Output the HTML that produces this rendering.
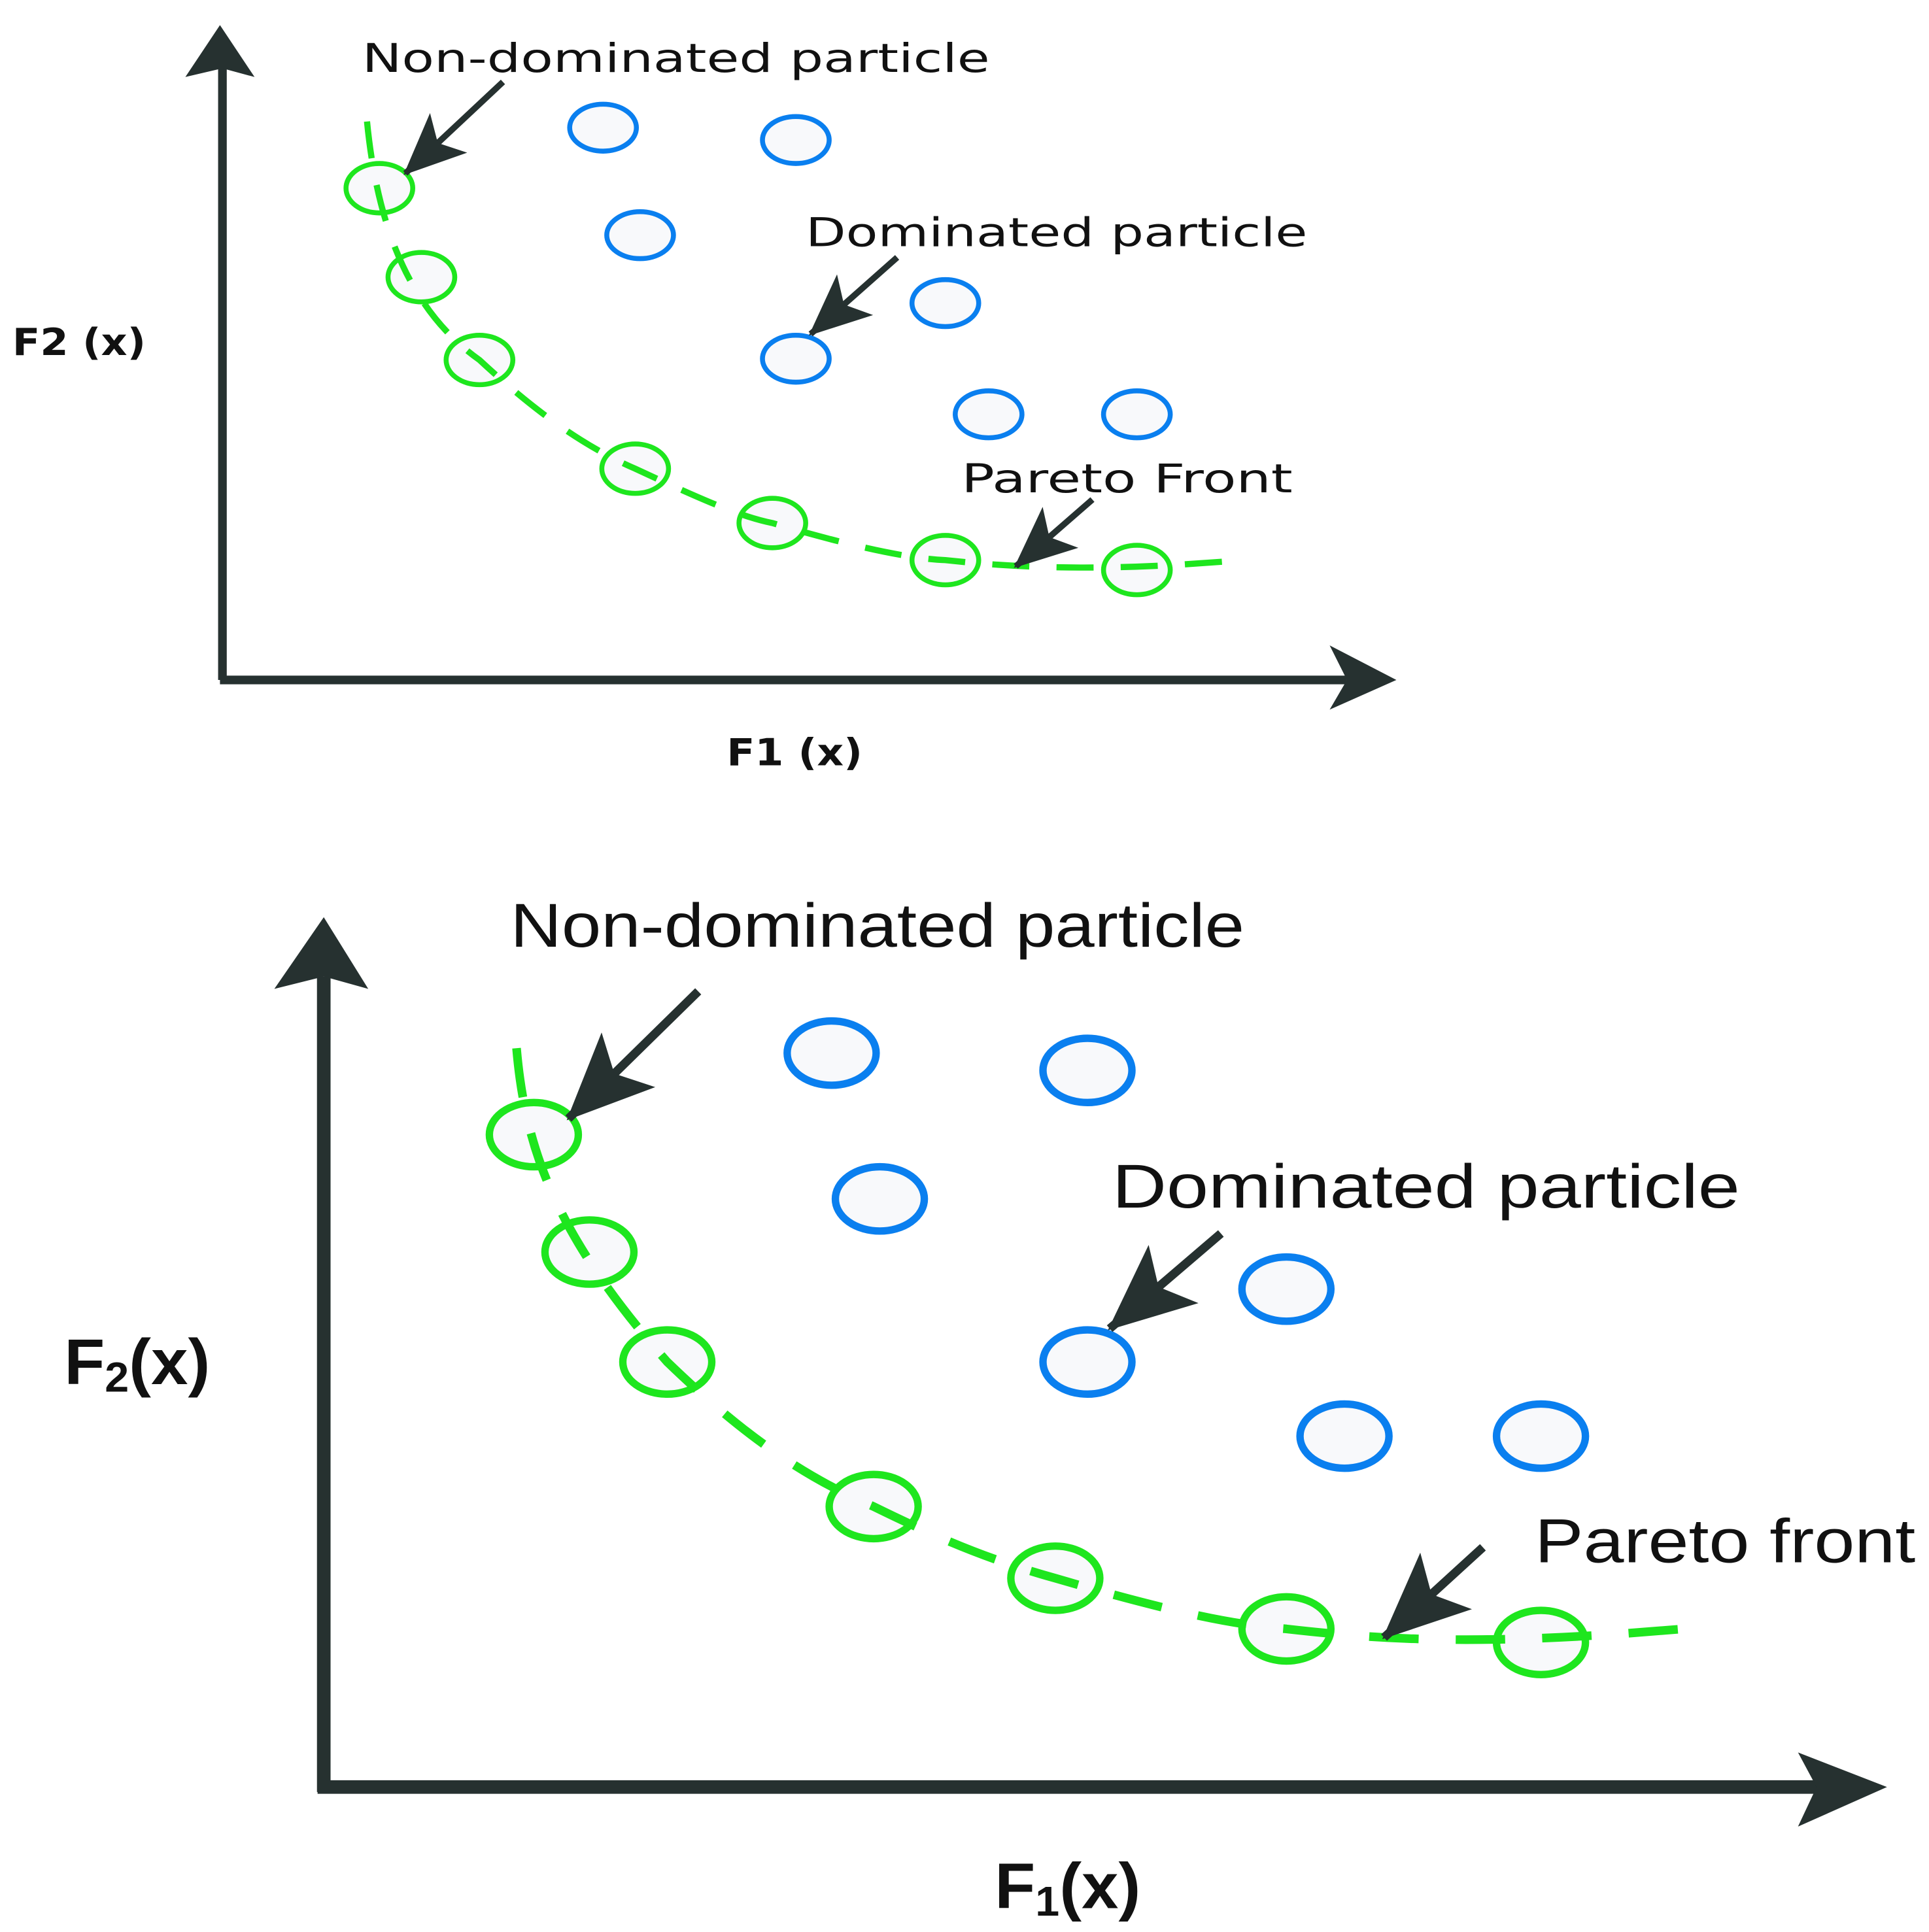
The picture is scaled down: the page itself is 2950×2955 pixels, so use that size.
<!DOCTYPE html>
<html><head><meta charset="utf-8"><style>html,body{margin:0;padding:0;background:#fff}svg{display:block}</style></head>
<body>
<svg width="2950" height="2955" viewBox="0 0 1561 1563" xmlns="http://www.w3.org/2000/svg">
<defs>
<marker id="a1" markerUnits="userSpaceOnUse" markerWidth="50" markerHeight="50" viewBox="0 0 50 50" refX="48" refY="25" orient="auto"><path d="M0,3 L50,25 L0,47 L12,25 Z" fill="#263130"/></marker>
<marker id="a2" markerUnits="userSpaceOnUse" markerWidth="70" markerHeight="70" viewBox="0 0 70 70" refX="68" refY="35" orient="auto"><path d="M0,4 L70,35 L0,66 L16,35 Z" fill="#263130"/></marker>
</defs>
<g font-family="DejaVu Sans, sans-serif" fill="#111">
<g stroke="#263130" stroke-width="7" fill="none"><path d="M180,550 V50 M178,550 H1090"/></g>
<path d="M178,20 L206,62 L180,55 L150,62 Z" fill="#263130"/>
<path d="M1130,550 L1076,574 L1090,550 L1076,522 Z" fill="#263130"/>
<g fill="#f8f9fb" stroke="#0a7fef" stroke-width="4">
<ellipse cx="488" cy="103" rx="27" ry="19"/><ellipse cx="644" cy="113" rx="27" ry="19"/><ellipse cx="518" cy="190" rx="27" ry="19"/><ellipse cx="765" cy="245" rx="27" ry="19"/><ellipse cx="644" cy="290" rx="27" ry="19"/><ellipse cx="800" cy="335" rx="27" ry="19"/><ellipse cx="920" cy="335" rx="27" ry="19"/></g>
<g fill="#f8f9fb" stroke="#1ee61e" stroke-width="4">
<ellipse cx="307" cy="152" rx="27" ry="20"/><ellipse cx="341" cy="224" rx="27" ry="20"/><ellipse cx="388" cy="291" rx="27" ry="20"/><ellipse cx="514" cy="379" rx="27" ry="20"/><ellipse cx="625" cy="423" rx="27" ry="20"/><ellipse cx="765" cy="453" rx="27" ry="20"/><ellipse cx="920" cy="461" rx="27" ry="20"/></g>
<path d="M297,98 C305,180 330,250 388,291 C430,330 470,360 514,379 C570,405 600,418 625,423 C700,445 740,452 765,453 C830,460 900,462 1005,453" stroke="#1ee61e" stroke-width="5" fill="none" stroke-dasharray="30,22"/>
<g stroke="#263130" stroke-width="5" fill="none">
<line x1="407" y1="66" x2="328" y2="140" marker-end="url(#a1)"/>
<line x1="726" y1="208" x2="656" y2="270" marker-end="url(#a1)"/>
<line x1="884" y1="404" x2="822" y2="458" marker-end="url(#a1)"/></g>
<text x="293" y="58" font-size="32" textLength="508" lengthAdjust="spacingAndGlyphs">Non-dominated particle</text>
<text x="652" y="199" font-size="32" textLength="406" lengthAdjust="spacingAndGlyphs">Dominated particle</text>
<text x="778" y="398" font-size="32" textLength="268" lengthAdjust="spacingAndGlyphs">Pareto Front</text>
<text x="10" y="287" font-size="30" font-weight="bold" textLength="108" lengthAdjust="spacingAndGlyphs">F2 (x)</text>
<text x="588" y="619" font-size="30" font-weight="bold" textLength="110" lengthAdjust="spacingAndGlyphs">F1 (x)</text>
</g>
<g font-family="Liberation Sans, sans-serif" fill="#111">
<g stroke="#263130" stroke-width="11" fill="none"><path d="M262,1450 V790 M257,1446 H1470"/></g>
<path d="M262,742 L298,800 L262,790 L222,800 Z" fill="#263130"/>
<path d="M1527,1446 L1455,1478 L1470,1446 L1455,1418 Z" fill="#263130"/>
<g fill="#f8f9fb" stroke="#0a7fef" stroke-width="6">
<ellipse cx="673" cy="852" rx="36" ry="26"/><ellipse cx="880" cy="866" rx="36" ry="26"/><ellipse cx="712" cy="970" rx="36" ry="26"/><ellipse cx="1041" cy="1043" rx="36" ry="26"/><ellipse cx="880" cy="1102" rx="36" ry="26"/><ellipse cx="1088" cy="1162" rx="36" ry="26"/><ellipse cx="1247" cy="1162" rx="36" ry="26"/></g>
<g fill="#f8f9fb" stroke="#1ee61e" stroke-width="6">
<ellipse cx="432" cy="918" rx="36" ry="26"/><ellipse cx="477" cy="1013" rx="36" ry="26"/><ellipse cx="540" cy="1102" rx="36" ry="26"/><ellipse cx="707" cy="1219" rx="36" ry="26"/><ellipse cx="854" cy="1277" rx="36" ry="26"/><ellipse cx="1041" cy="1318" rx="36" ry="26"/><ellipse cx="1247" cy="1329" rx="36" ry="26"/></g>
<path d="M418,848 C425,930 450,1000 540,1102 C600,1160 650,1195 707,1219 C760,1245 800,1262 854,1277 C950,1305 1000,1315 1041,1318 C1120,1327 1200,1332 1362,1318" stroke="#1ee61e" stroke-width="7" fill="none" stroke-dasharray="40,30"/>
<g stroke="#263130" stroke-width="7" fill="none">
<line x1="565" y1="802" x2="460" y2="905" marker-end="url(#a2)"/>
<line x1="988" y1="998" x2="898" y2="1075" marker-end="url(#a2)"/>
<line x1="1200" y1="1252" x2="1120" y2="1325" marker-end="url(#a2)"/></g>
<text x="413" y="766" font-size="50" textLength="594" lengthAdjust="spacingAndGlyphs">Non-dominated particle</text>
<text x="900" y="977" font-size="50" textLength="508" lengthAdjust="spacingAndGlyphs">Dominated particle</text>
<text x="1242" y="1264" font-size="50" textLength="308" lengthAdjust="spacingAndGlyphs">Pareto front</text>
<text x="52" y="1120" font-size="52" font-weight="bold" textLength="118" lengthAdjust="spacingAndGlyphs">F<tspan font-size="34" dy="6">2</tspan><tspan dy="-6">(x)</tspan></text>
<text x="805" y="1544" font-size="52" font-weight="bold" textLength="118" lengthAdjust="spacingAndGlyphs">F<tspan font-size="34" dy="6">1</tspan><tspan dy="-6">(x)</tspan></text>
</g>
</svg>
</body></html>
